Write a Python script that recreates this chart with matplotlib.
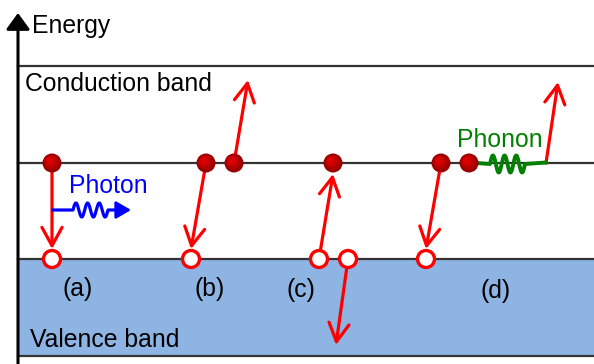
import numpy as np
import matplotlib.pyplot as plt
from matplotlib.patches import Circle, Rectangle, FancyArrowPatch

plt.rcParams['font.family'] = ['Liberation Sans', 'DejaVu Sans']

W, H = 594, 364

# band levels (pixel rows, y grows downward)
cb_top = 66
cb_edge = 163
vb_edge = 259
vb_bottom = 356

# electrons (on conduction band edge) and holes (on valence band edge)
electron_x = [52, 206, 234, 333, 441, 469]
hole_x = [52, 191, 319, 348, 426]

# transition arrows: (x0, y0, x1, y1)
arrows = [
    (52, 163, 52, 249),    # (a) radiative
    (206, 163, 191, 249),  # (b) auger, electron down
    (234, 163, 248, 80),   # (b) auger, electron up
    (319, 259, 333, 174),  # (c) electron up from hole
    (348, 259, 336, 345),  # (c) hole pushed down
    (441, 163, 426, 249),  # (d) electron down
    (546, 163, 558, 82),   # (d) electron up after phonon
]

case_labels = ['(a)', '(b)', '(c)', '(d)']
case_x = [63, 194, 286, 480]
case_y = [296, 296, 297, 298]

fig = plt.figure(figsize=(W / 100, H / 100), dpi=100)
ax = fig.add_axes([0, 0, 1, 1])
ax.set_xlim(0, W)
ax.set_ylim(H, 0)
ax.axis('off')

# valence band fill
ax.add_patch(Rectangle((18, vb_edge), W - 18, vb_bottom - vb_edge,
                       facecolor='#8EB4E3', edgecolor='none', zorder=1))
for y in [cb_top, cb_edge, vb_edge, vb_bottom]:
    ax.plot([18, W], [y, y], color='#333333', lw=1.6, zorder=2)

# energy axis
ax.add_patch(FancyArrowPatch((18, H), (18, 13), arrowstyle='-|>,head_length=0.55,head_width=0.4',
                             mutation_scale=18, color='black', lw=2.2,
                             shrinkA=0, shrinkB=0, zorder=3))
fs = 17.8
ax.text(32, 33, 'Energy', fontsize=fs, va='baseline', ha='left')
ax.text(25, 91, 'Conduction band', fontsize=fs, va='baseline', ha='left')
ax.text(30, 347, 'Valence band', fontsize=fs, va='baseline', ha='left')

for lab, x, y in zip(case_labels, case_x, case_y):
    ax.text(x, y, lab, fontsize=fs, va='baseline', ha='left')

# red arrows
for x0, y0, x1, y1 in arrows:
    ax.add_patch(FancyArrowPatch((x0, y0), (x1, y1),
                                 arrowstyle='->,head_length=0.6,head_width=0.33',
                                 mutation_scale=22, color='#FF0000', lw=2.3,
                                 shrinkA=0, shrinkB=0, zorder=4))

# photon
t = np.linspace(0, 1, 200)
px = np.concatenate([[53], 73 + 35 * t, [120]])
py = np.concatenate([[210], 210 - 7 * np.sin(2 * np.pi * 3 * t), [210]])
ax.plot(px, py, color='#0000FF', lw=2.3, zorder=4, solid_joinstyle='round')
ax.add_patch(FancyArrowPatch((117, 210), (131, 210),
                             arrowstyle='-|>,head_length=0.6,head_width=0.35',
                             mutation_scale=15, color='#0000FF', lw=2.0,
                             shrinkA=0, shrinkB=0, zorder=4))
ax.text(69, 193, 'Photon', fontsize=fs, color='#0000FF', va='baseline', ha='left')

# phonon
gx = np.concatenate([[469], 490 + 35 * t, [546]])
gy = np.concatenate([[162.5], 164 + 8.5 * np.sin(2 * np.pi * 3 * t - np.pi), [162.5]])
ax.plot(gx, gy, color='#008000', lw=2.8, zorder=4)
ax.text(457, 147, 'Phonon', fontsize=fs, color='#008000', va='baseline', ha='left')

# electrons, with simple shading
r = 9.5
for x in electron_x:
    ax.add_patch(Circle((x, cb_edge), r, facecolor='#990000', edgecolor='none', zorder=5))
    for k, c in enumerate(['#B00000', '#C80000', '#DD0000']):
        s = 1 - 0.22 * (k + 1)
        ax.add_patch(Circle((x - (1 - s) * 3.5, cb_edge - (1 - s) * 3.5), r * s,
                            facecolor=c, edgecolor='none', zorder=5))

# holes
for x in hole_x:
    ax.add_patch(Circle((x, vb_edge), 8.5, facecolor='white', edgecolor='#FF0000',
                        lw=2.4, zorder=5))

fig.savefig('out.png', dpi=100)
